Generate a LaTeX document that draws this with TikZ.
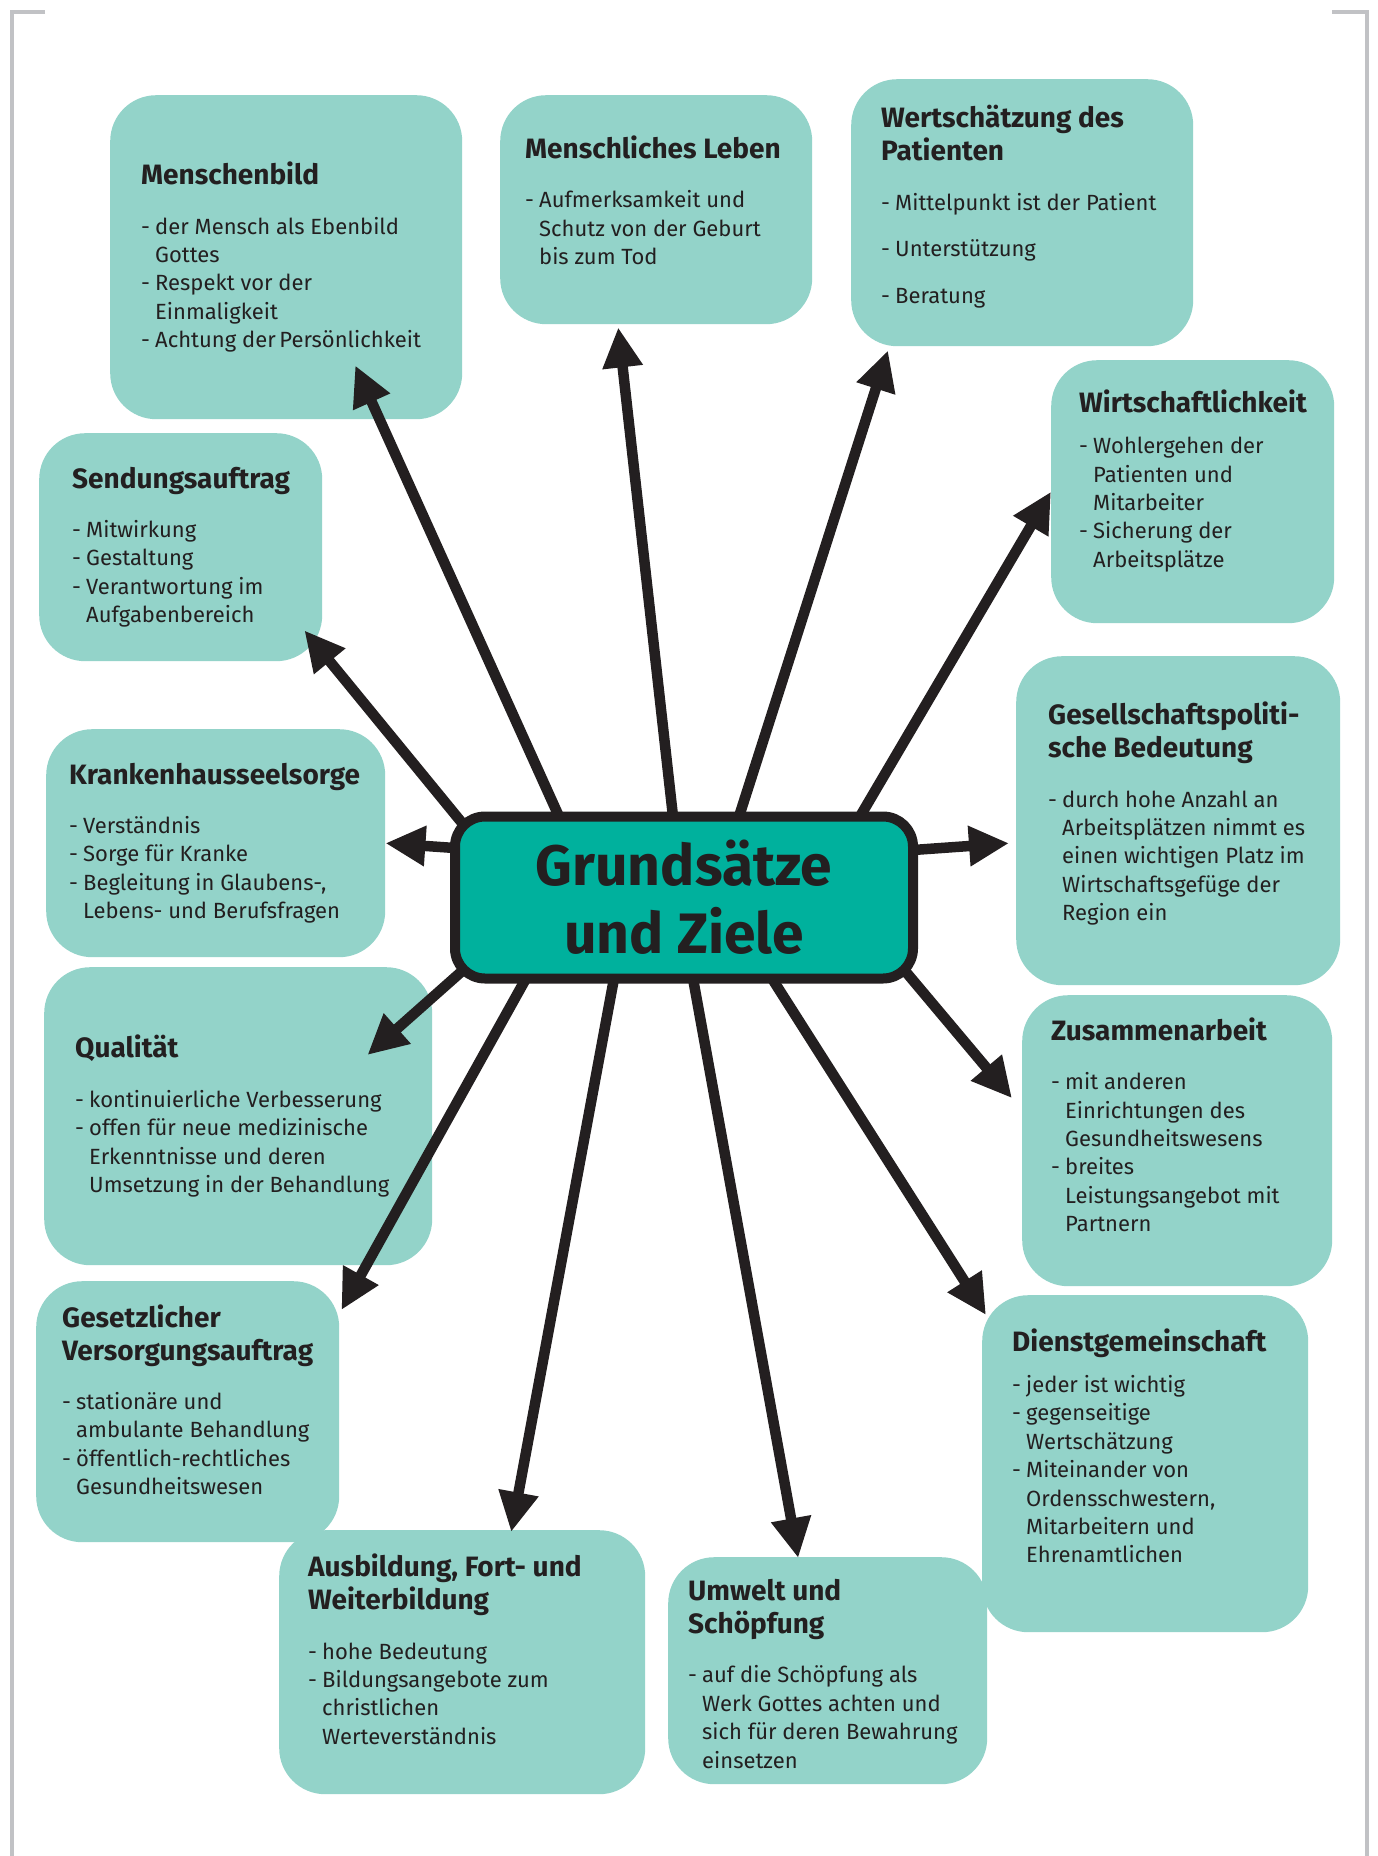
\documentclass[tikz,border=0pt]{standalone}
\usepackage{fontspec}
\setmainfont{Fira Sans}
\usetikzlibrary{arrows.meta}

\definecolor{boxteal}{HTML}{93D3C9}
\definecolor{hubteal}{HTML}{00B19D}
\definecolor{ink}{HTML}{231F20}
\definecolor{rimgray}{HTML}{C1C2C5}

% box text: [extra space below], left padding, box width, contents
\newcommand\goaltext[4][0]{\hspace*{#2pt}\parbox{\dimexpr#3pt-#2pt\relax}{\raggedright#4\par\vspace*{#1pt}}}
\newcommand\ttl[1]{{\fontsize{28}{33}\selectfont\bfseries#1\par}\vspace{21pt}}
\newcommand\itm[1]{\par\noindent\hangindent=14pt\hangafter=1\makebox[14pt][l]{-}#1}

\begin{document}
\begin{tikzpicture}[x=1pt,y=-1pt,
  font=\fontsize{22}{28.4}\selectfont, text=ink,
  goal/.style={fill=boxteal, rounded corners=46pt, inner sep=0pt, anchor=north west},
  hubbox/.style={draw=ink, line width=10pt, fill=hubteal, rounded corners=30pt,
    outer sep=0pt, minimum width=458pt, minimum height=162pt, align=center,
    font=\fontsize{57}{68}\selectfont\bfseries},
  arr/.style={color=ink, line width=10.5pt, -{Triangle[length=40pt,width=38pt]}},
  rim/.style={draw=rimgray, line width=4pt}]
  \useasboundingbox (0,0) rectangle (1377,1856);

  % page corners
  \draw[rim] (45,12) -- (12,12) -- (12,1856);
  \draw[rim] (1332,12) -- (1367,12) -- (1367,1856);

  \node[goal, minimum width=352pt, minimum height=324pt] (mensch) at (110,95)
    {\goaltext{31}{352}{\ttl{Menschenbild}
      \itm{der Mensch als Ebenbild\newline Gottes}
      \itm{Respekt vor der\newline Einmaligkeit}
      \itm{Achtung der\,Persönlichkeit}}};
  \node[goal, minimum width=312pt, minimum height=229pt] (leben) at (500,95)
    {\goaltext[19]{25}{312}{\ttl{Menschliches Leben}
      \itm{Aufmerksamkeit und\newline Schutz von der Geburt\newline bis zum Tod}}};
  \node[goal, minimum width=342pt, minimum height=267pt] (wert) at (851,79)
    {\goaltext[12]{30}{342}{\ttl{Wertschätzung des\\Patienten}
      \itm{Mittelpunkt ist der Patient}\par\vspace{18pt}
      \itm{Unterstützung}\par\vspace{18pt}
      \itm{Beratung}}};
  \node[goal, minimum width=283pt, minimum height=263pt] (wirt) at (1051,360)
    {\goaltext[22]{28}{283}{\ttl{Wirtschaftlichkeit}\vspace{-8pt}
      \itm{Wohlergehen der\newline Patienten und\newline Mitarbeiter}
      \itm{Sicherung der\newline Arbeitsplätze}}};
  \node[goal, minimum width=283pt, minimum height=228pt] (sendung) at (39,433)
    {\goaltext{33}{283}{\ttl{Sendungsauftrag}
      \itm{Mitwirkung}
      \itm{Gestaltung}
      \itm{Verantwortung im\newline Aufgabenbereich}}};
  \node[goal, minimum width=324pt, minimum height=329pt] (gesell) at (1016,656)
    {\goaltext[14]{32}{324}{\ttl{Gesellschaftspoliti-\\sche Bedeutung}
      \itm{durch hohe Anzahl an\newline Arbeitsplätzen nimmt es\newline einen wichtigen Platz im\newline Wirtschaftsgefüge der\newline Region ein}}};
  \node[goal, minimum width=339pt, minimum height=228pt] (seelsorge) at (46,729)
    {\goaltext{23}{339}{\ttl{Krankenhausseelsorge}
      \itm{Verständnis}
      \itm{Sorge für Kranke}
      \itm{Begleitung in Glaubens-,\newline Lebens- und Berufsfragen}}};
  \node[goal, minimum width=388pt, minimum height=298pt] (quali) at (44,967)
    {\goaltext{31}{388}{\ttl{Qualität}
      \itm{kontinuierliche Verbesserung}
      \itm{offen für neue medizinische\newline Erkenntnisse und deren\newline Umsetzung in der Behandlung}}};
  \node[goal, minimum width=310pt, minimum height=291pt] (zusammen) at (1022,995)
    {\goaltext[32]{29}{310}{\ttl{Zusammenarbeit}
      \itm{mit anderen\newline Einrichtungen des\newline Gesundheitswesens}
      \itm{breites\newline Leistungsangebot mit\newline Partnern}}};
  \node[goal, minimum width=303pt, minimum height=261pt] (gesetz) at (36,1281)
    {\goaltext[24]{26}{303}{\ttl{Gesetzlicher\\Versorgungsauftrag}
      \itm{stationäre und\newline ambulante Behandlung}
      \itm{öffentlich-rechtliches\newline Gesundheitswesen}}};
  \node[goal, minimum width=326pt, minimum height=337pt] (dienst) at (982,1295)
    {\goaltext[36]{30}{326}{\ttl{Dienstgemeinschaft}\vspace{-8pt}
      \itm{jeder ist wichtig}
      \itm{gegenseitige\newline Wertschätzung}
      \itm{Miteinander von\newline Ordensschwestern,\newline Mitarbeitern und\newline Ehrenamtlichen}}};
  \node[goal, minimum width=366pt, minimum height=264pt] (bildung) at (279,1530)
    {\goaltext[26]{29}{366}{\ttl{Ausbildung, Fort- und\\Weiterbildung}
      \itm{hohe Bedeutung}
      \itm{Bildungsangebote zum\newline christlichen\newline Werteverständnis}}};
  \node[goal, minimum width=319pt, minimum height=227pt] (umwelt) at (668,1557)
    {\goaltext[-6]{20}{319}{\ttl{Umwelt und\\Schöpfung}
      \itm{auf die Schöpfung als\newline Werk Gottes achten und\newline sich für deren Bewahrung\newline einsetzen}}};

  \node[hubbox] (hub) at (684,897.5) {Grundsätze\\und Ziele};

  \path[arr]
    ([shift={(-125,0)}]hub.north) edge ([shift={(69,-54)}]mensch.south)
    ([shift={(-11,0)}]hub.north) edge ([shift={(-38,3)}]leben.south)
    ([shift={(55,0)}]hub.north) edge ([shift={(37,4)}]wert.south west)
    ([shift={(176,0)}]hub.north) edge (wirt.west)
    ([shift={(10,10)}]hub.north west) edge ([shift={(-18,-31)}]sendung.south east)
    ([shift={(0,-49.5)}]hub.west) edge (seelsorge.east)
    ([shift={(0,-47.5)}]hub.east) edge ([shift={(-7,22.5)}]gesell.west)
    ([shift={(10,-10)}]hub.south west) edge ([shift={(-65,88)}]quali.north east)
    ([shift={(-158,0)}]hub.south) edge ([shift={(2,29)}]gesetz.north east)
    ([shift={(-70,0)}]hub.south) edge ([shift={(49,2)}]bildung.north)
    ([shift={(9,0)}]hub.south) edge ([shift={(-29.5,1)}]umwelt.north)
    ([shift={(88,0)}]hub.south) edge ([shift={(4,20)}]dienst.north west)
    ([shift={(-10,-10)}]hub.south east) edge ([shift={(-10,-42.5)}]zusammen.west);
\end{tikzpicture}
\end{document}
